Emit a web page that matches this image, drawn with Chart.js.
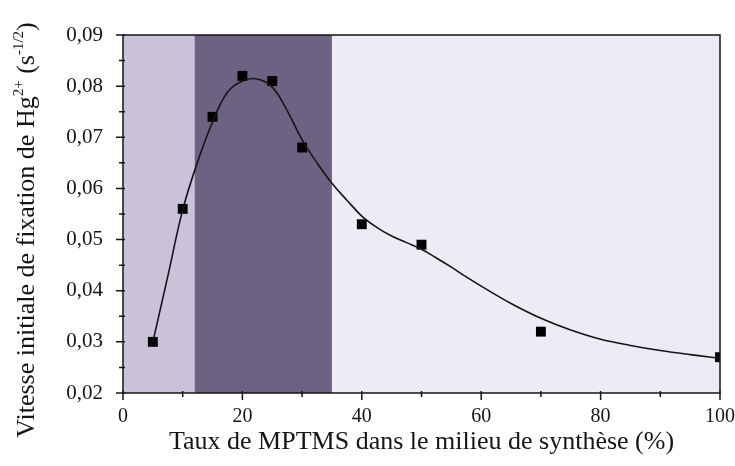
<!DOCTYPE html>
<html>
<head>
<meta charset="utf-8">
<script src="https://cdn.jsdelivr.net/npm/chart.js@4.4.0/dist/chart.umd.min.js"></script>
<style>
  html, body { margin: 0; padding: 0; background: #fff; }
</style>
</head>
<body>
<canvas id="rateChart" width="735" height="466"></canvas>
<script>
// Measured initial Hg2+ uptake rates vs MPTMS content
const mptmsRate = [5, 10, 15, 20, 25, 30, 40, 50, 70, 100];
const initialRate = [0.030, 0.056, 0.074, 0.082, 0.081, 0.068, 0.053, 0.049, 0.032, 0.027];

// Trend curve through the measurements
const fitX = [5, 7.5, 10, 12.5, 15, 17.5, 20, 22.5, 25, 27.5, 30, 32.5, 35, 37.5, 40, 42.5, 45, 47.5, 50, 52.5, 55, 57.5, 60, 65, 70, 75, 80, 85, 90, 95, 100];
const fitY = [0.030, 0.0428, 0.0558, 0.0652, 0.0730, 0.0788, 0.0810, 0.0814, 0.0798, 0.0752, 0.0695, 0.0650, 0.0610, 0.0577, 0.0546, 0.0524, 0.0507, 0.0494, 0.0481, 0.0464, 0.0446, 0.0427, 0.0409, 0.0375, 0.0346, 0.0323, 0.0305, 0.0293, 0.0283, 0.0275, 0.0268];

// Composition zones (% MPTMS)
const zoneStart = [0, 12, 35];
const zoneEnd = [12, 35, 100];

// Axis ticks
const xTicks = [0, 20, 40, 60, 80, 100];
const xMinor = [10, 30, 50, 70, 90];
const yTicks = [0.02, 0.03, 0.04, 0.05, 0.06, 0.07, 0.08, 0.09];
const yMinor = [0.025, 0.035, 0.045, 0.055, 0.065, 0.075, 0.085];

const zoneColors = ['#c9c2d9', '#6d6282', '#edecf6'];
const serif = "'Liberation Serif', 'Times New Roman', serif";
const ink = '#151515';

// shaded zones behind the data
const zonesPlugin = {
    id: 'zones',
    beforeDatasetsDraw(chart) {
        const { ctx, chartArea, scales } = chart;
        ctx.save();
        zoneStart.forEach((s, i) => {
            const x0 = scales.x.getPixelForValue(s);
            const x1 = scales.x.getPixelForValue(zoneEnd[i]);
            ctx.fillStyle = zoneColors[i];
            ctx.fillRect(x0, chartArea.top, x1 - x0, chartArea.bottom - chartArea.top);
        });
        ctx.restore();
    }
};

// box frame with outward major/minor ticks
const framePlugin = {
    id: 'frame',
    afterDatasetsDraw(chart) {
        const { ctx, chartArea, scales } = chart;
        ctx.save();
        ctx.strokeStyle = ink;
        ctx.lineWidth = 1.5;
        ctx.strokeRect(chartArea.left, chartArea.top, chartArea.right - chartArea.left, chartArea.bottom - chartArea.top);
        ctx.beginPath();
        const tickX = (v, len) => {
            const px = scales.x.getPixelForValue(v);
            ctx.moveTo(px, chartArea.bottom - 2);
            ctx.lineTo(px, chartArea.bottom + len);
        };
        const tickY = (v, len) => {
            const py = scales.y.getPixelForValue(v);
            ctx.moveTo(chartArea.left + 2, py);
            ctx.lineTo(chartArea.left - len, py);
        };
        xTicks.forEach(v => tickX(v, 7));
        xMinor.forEach(v => tickX(v, 4));
        yTicks.forEach(v => tickY(v, 7));
        yMinor.forEach(v => tickY(v, 4));
        ctx.stroke();
        ctx.restore();
    }
};

// rotated y title with superscripts
const yTitlePlugin = {
    id: 'yTitle',
    afterDraw(chart) {
        const { ctx, chartArea } = chart;
        const parts = [
            ['Vitesse initiale de fixation de Hg', 26, 0],
            ['2+', 15, -11],
            [' (s', 26, 0],
            ['-1/2', 15, -11],
            [')', 26, 0]
        ];
        ctx.save();
        ctx.fillStyle = ink;
        ctx.textBaseline = 'alphabetic';
        let total = 0;
        parts.forEach(p => {
            ctx.font = p[1] + 'px ' + serif;
            total += ctx.measureText(p[0]).width;
        });
        ctx.translate(34, (chartArea.top + chartArea.bottom) / 2 + 16);
        ctx.rotate(-Math.PI / 2);
        let x = -total / 2;
        parts.forEach(p => {
            ctx.font = p[1] + 'px ' + serif;
            ctx.fillText(p[0], x, p[2]);
            x += ctx.measureText(p[0]).width;
        });
        ctx.restore();
    }
};

const ctx = document.getElementById('rateChart').getContext('2d');
const rateChart = new Chart(ctx, {
    type: 'scatter',
    data: {
        datasets: [{
            label: 'Ajustement',
            data: fitX.map((x, i) => ({ x: x, y: fitY[i] })),
            showLine: true,
            borderColor: ink,
            borderWidth: 1.6,
            pointRadius: 0,
            tension: 0.4
        }, {
            label: 'Mesures',
            data: mptmsRate.map((x, i) => ({ x: x, y: initialRate[i] })),
            pointStyle: 'rect',
            pointRadius: 7,
            backgroundColor: '#000',
            borderColor: '#000',
            borderWidth: 0
        }]
    },
    options: {
        responsive: false,
        animation: false,
        layout: { padding: { top: 35, right: 15, left: 0, bottom: 0 } },
        plugins: {
            legend: { display: false },
            tooltip: { enabled: false }
        },
        scales: {
            x: {
                type: 'linear',
                min: 0,
                max: 100,
                afterFit: s => { s.height = 73; s.paddingLeft = 0; s.paddingRight = 0; },
                afterBuildTicks: s => { s.ticks = xTicks.map(v => ({ value: v })); },
                grid: { display: false },
                border: { display: false },
                ticks: {
                    padding: 4,
                    color: ink,
                    font: { family: serif, size: 20 },
                    maxRotation: 0,
                    callback: v => String(v)
                },
                title: {
                    display: true,
                    text: 'Taux de MPTMS dans le milieu de synthèse (%)',
                    color: ink,
                    font: { family: serif, size: 26 },
                    padding: { top: 0, bottom: 8 }
                }
            },
            y: {
                type: 'linear',
                min: 0.02,
                max: 0.09,
                afterFit: s => { s.width = 123; s.paddingTop = 0; s.paddingBottom = 0; },
                afterBuildTicks: s => { s.ticks = yTicks.map(v => ({ value: v })); },
                grid: { display: false },
                border: { display: false },
                ticks: {
                    padding: 12,
                    color: ink,
                    font: { family: serif, size: 21 },
                    callback: v => v.toFixed(2).replace('.', ',')
                }
            }
        }
    },
    plugins: [zonesPlugin, framePlugin, yTitlePlugin]
});
</script>
</body>
</html>
